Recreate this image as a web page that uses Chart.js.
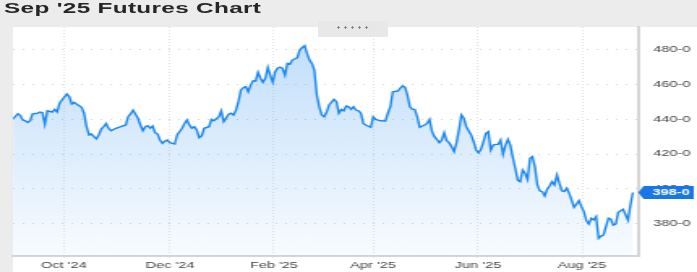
<!DOCTYPE html>
<html>
<head>
<meta charset="utf-8">
<script src="https://cdn.jsdelivr.net/npm/chart.js@4"></script>
<style>
	html, body { margin: 0; padding: 0; width: 697px; height: 272px; overflow: hidden; background: #ececec; }
	#panel { position: absolute; left: 13px; top: 27px; right: 0; bottom: 0; background: #fff; }
	#handle { position: absolute; left: 318px; top: 21px; width: 70px; height: 16px; background: #e8e8e8; }
	#handle .dots { position: absolute; left: 17px; top: 4px; width: 35px; height: 5px;
		background-image: radial-gradient(circle, #777 0.9px, transparent 1.3px); background-size: 7px 5px; }
	#stretch { position: absolute; left: 0; top: 0; width: 430px; height: 272px; transform: scaleX(1.6209); transform-origin: 0 0; }
	#title { position: absolute; left: 2.5px; top: 0; font: bold 15px "Liberation Sans", Arial, sans-serif; line-height: 15px; letter-spacing: 0.2px; color: #262626; white-space: nowrap; }
	#chart { position: absolute; left: 0; top: 0; }
</style>
</head>
<body>
<div id="panel"></div>
<div id="handle"><div class="dots"></div></div>
<div id="stretch">
	<div id="title">Sep '25 Futures Chart</div>
	<canvas id="chart" width="430" height="272"></canvas>
</div>
<script>
// trading day index (0 = early Sep 2024) and settlement price
const days = [0, 2, 3, 4, 5, 6, 7, 8, 10, 11, 12, 13, 14, 16, 17, 18, 19, 21, 22, 23, 24, 25, 26, 28, 29,
	30, 31, 32, 33, 34, 35, 36, 37, 38, 39, 40, 42, 44, 46, 47, 48, 49, 51, 52, 53, 54, 55, 56, 57, 58, 59,
	60, 61, 62, 63, 64, 66, 67, 69, 70, 71, 72, 73, 74, 75, 76, 77, 78, 80, 81, 82, 84, 85, 86, 88, 89,
	90, 91, 92, 93, 94, 95, 96, 97, 98, 99, 100, 101, 102, 103, 104, 105, 106, 107, 108, 109, 110, 111, 112,
	113, 114, 116, 117, 118, 119, 120, 121, 122, 123, 124, 125, 126, 127, 128, 129, 131, 132, 133, 134, 135,
	136, 137, 138, 139, 140, 141, 142, 143, 144, 146, 147, 148, 150, 152, 153, 154, 155, 157, 158, 159, 160,
	161, 162, 163, 164, 165, 166, 168, 169, 170, 171, 172, 173, 174, 175, 176, 177, 178, 179, 180, 181, 182,
	183, 184, 185, 187, 188, 189, 190, 191, 192, 193, 194, 195, 196, 197, 198, 199, 200, 201, 202, 203, 204,
	205, 206, 207, 208, 209, 210, 211, 212, 213, 214, 215, 216, 217, 218, 219, 220, 221, 222, 223, 224, 225,
	226, 227, 228, 229, 230, 231, 232, 233, 234, 235, 236, 237, 238, 239, 240, 241, 242, 243, 244, 245, 246,
	247, 248, 249, 251, 252, 253];
const prices = [440, 443, 442, 439.4, 439, 438, 439, 443, 443.3, 444, 443.6, 437, 444.7, 444, 445.5, 444, 449, 452.7, 454.3, 452.7, 448.6, 449.5, 448.4, 446.7, 443.3,
	435.6, 430.9, 431.4, 430, 428.7, 430.9, 434.3, 435.6, 437.5, 434.7, 433.3, 434.7, 435.6, 436.6, 441.3, 442.9, 445.1, 440.4, 436.6, 433.3, 435.6, 436.2, 434.7, 436, 432.2, 431.4,
	428, 426.1, 427.4, 428, 426.5, 425.7, 430.9, 434.7, 437.5, 439.4, 436.6, 434.7, 435.6, 433.7, 429.3, 430.3, 434.7, 435.6, 439.8, 439, 441.3, 444.7, 438.5, 442.7, 443.3,
	442.3, 445.1, 449.9, 456.6, 457.9, 458.5, 455.6, 459.4, 461.9, 461.7, 466.7, 463.3, 461, 463.3, 469.5, 465.1, 461, 467, 469, 469.7, 469, 465.1, 471.8,
	471.3, 473.7, 475, 479.4, 480.8, 481.9, 477.5, 473.7, 471.8, 468, 453.7, 447, 442.3, 441.3, 444, 448, 451.2, 449.9, 443.3, 445.5, 444.7,
	447.4, 447, 445.5, 447, 445.1, 444.7, 443.3, 437.5, 436.6, 435.3, 441.3, 439.8, 439, 438.9, 443.3, 447, 455.6, 456, 457.5, 458.9, 458.1,
	453.7, 447, 445.5, 445.5, 441.3, 435.3, 436.6, 437.5, 439.8, 433, 429.9, 428.4, 426.5, 428, 432.2, 427.6, 426.5, 424.2, 421.3, 426.5, 433.7,
	442.3, 440.4, 435.6, 430.9, 427, 422.3, 420.7, 422.7, 427, 431.8, 432.8, 422.3, 425.1, 425.5, 425.5, 428, 419.8, 425.1, 428.4, 425.1, 418.1,
	411.8, 405.1, 404.2, 410.9, 409, 405.5, 417.5, 418.5, 412.8, 402.3, 399, 398.5, 396, 399.8, 401.7, 404.2, 402.3, 408, 403.2, 399, 398.5,
	400.4, 397.5, 393.7, 389.5, 391.4, 393.3, 389.9, 387, 381.9, 380, 383.3, 382.3, 384.2, 371.8, 373.1, 373.7, 378.5, 383.3, 382.7, 379.4, 380,
	386.5, 387.6, 388.4, 382.3, 390.9, 398];

const monthTicks = [20.7, 64.1, 106.5, 146.9, 189.8, 232.2];
const monthLabels = ["Oct '24", "Dec '24", "Feb '25", "Apr '25", "Jun '25", "Aug '25"];
const priceTicks = [380, 400, 420, 440, 460, 480];

const FONT = '"Liberation Sans", Arial, sans-serif';
const fmtPrice = v => v.toFixed(0) + '-0';

const lastPriceTag = {
	id: 'lastPriceTag',
	afterDraw(chart) {
		const ctx = chart.ctx;
		const ys = chart.scales.y;
		const last = prices[prices.length - 1];
		const y = ys.getPixelForValue(last);
		const tip = chart.chartArea.right - 0.5;
		const left = tip + 3.4;
		const right = 428;
		const h = 13;
		ctx.save();
		ctx.fillStyle = '#1877e6';
		ctx.beginPath();
		ctx.moveTo(tip, y);
		ctx.lineTo(left, y - h / 2);
		ctx.lineTo(right, y - h / 2);
		ctx.lineTo(right, y + h / 2);
		ctx.lineTo(left, y + h / 2);
		ctx.closePath();
		ctx.fill();
		ctx.fillStyle = '#fff';
		ctx.font = 'bold 9px ' + FONT;
		ctx.textBaseline = 'middle';
		ctx.textAlign = 'left';
		ctx.fillText(fmtPrice(last), ys.left + 8.2, y + 0.5);
		ctx.restore();
	}
};

const ctx = document.getElementById('chart').getContext('2d');

new Chart(ctx, {
	type: 'line',
	data: {
		datasets: [{
			data: days.map((d, i) => ({x: d, y: prices[i]})),
			borderColor: '#1a86f0',
			borderWidth: 1.4,
			pointRadius: 0,
			tension: 0,
			fill: 'start',
			backgroundColor: c => {
				const area = c.chart.chartArea;
				if (!area) return 'rgba(30,136,238,0.1)';
				const g = c.chart.ctx.createLinearGradient(0, area.top, 0, area.bottom);
				g.addColorStop(0, 'rgba(30,136,238,0.29)');
				g.addColorStop(1, 'rgba(30,136,238,0.03)');
				return g;
			}
		}]
	},
	options: {
		responsive: false,
		animation: false,
		devicePixelRatio: 1,
		layout: { padding: { left: 8.02, top: 27, right: 0, bottom: 0 } },
		plugins: { legend: { display: false }, tooltip: { enabled: false } },
		scales: {
			x: {
				type: 'linear',
				min: 0,
				max: 255.5,
				afterBuildTicks: s => { s.ticks = monthTicks.map(v => ({ value: v })); },
				afterFit: s => { s.height = 16; },
				ticks: {
					autoSkip: false,
					maxRotation: 0,
					padding: 0,
					color: '#444',
					font: { family: FONT, size: 9 },
					callback: (v, i) => monthLabels[i]
				},
				grid: {
					color: '#e3e3e3',
					tickColor: '#e3e3e3',
					tickLength: 4,
					tickBorderDash: [1, 2]
				},
				border: { display: true, color: '#d6d6d6', width: 2, dash: [1, 2] }
			},
			y: {
				position: 'right',
				min: 361.7,
				max: 492.6,
				afterBuildTicks: s => { s.ticks = priceTicks.map(v => ({ value: v })); },
				afterFit: s => { s.width = 35.78; },
				ticks: {
					padding: 8.7,
					color: '#444',
					font: { family: FONT, size: 9 },
					callback: v => fmtPrice(v)
				},
				grid: { color: '#d8d8d8', drawTicks: false },
				border: { display: true, color: '#d6d6d6', width: 2, dash: [1, 5] }
			}
		}
	},
	plugins: [lastPriceTag]
});
</script>
</body>
</html>
